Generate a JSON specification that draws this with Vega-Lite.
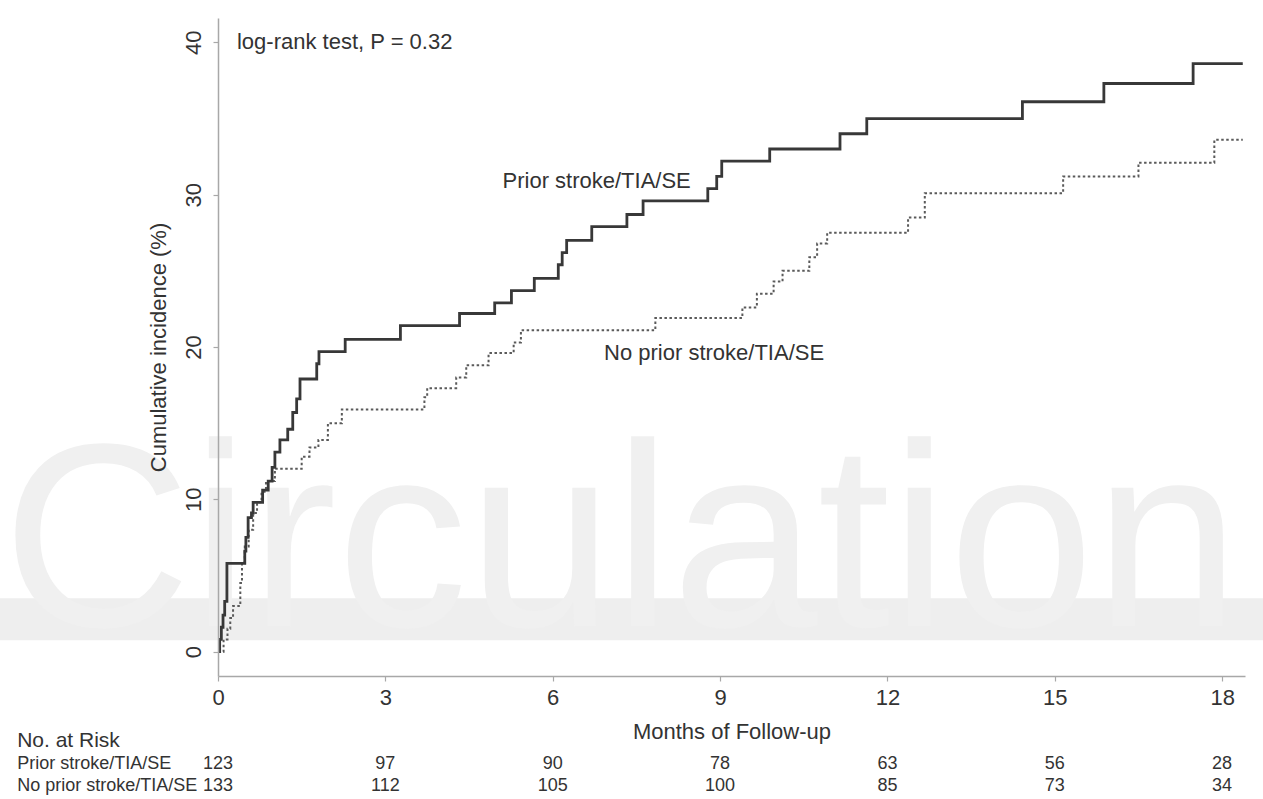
{
  "$schema": "https://vega.github.io/schema/vega-lite/v6.json",
  "width": 1027,
  "height": 658,
  "autosize": {"type": "none"},
  "padding": {"left": 218, "top": 18, "right": 18, "bottom": 123},
  "background": "white",
  "config": {
    "font": "Liberation Sans",
    "view": {"stroke": null},
    "axis": {"grid": false},
    "text": {"font": "Liberation Sans"}
  },
  "datasets": {
    "curves": [
      {"group": "Prior", "month": 0, "pct": 0},
      {"group": "Prior", "month": 0.03, "pct": 0.8},
      {"group": "Prior", "month": 0.06, "pct": 1.6},
      {"group": "Prior", "month": 0.09, "pct": 2.4},
      {"group": "Prior", "month": 0.12, "pct": 3.3},
      {"group": "Prior", "month": 0.16, "pct": 5.8},
      {"group": "Prior", "month": 0.48, "pct": 6.6},
      {"group": "Prior", "month": 0.5, "pct": 7.5},
      {"group": "Prior", "month": 0.54, "pct": 8.8},
      {"group": "Prior", "month": 0.6, "pct": 9.1},
      {"group": "Prior", "month": 0.63, "pct": 9.8},
      {"group": "Prior", "month": 0.8, "pct": 10.6},
      {"group": "Prior", "month": 0.9, "pct": 11.2},
      {"group": "Prior", "month": 0.97, "pct": 12.1},
      {"group": "Prior", "month": 1.02, "pct": 13.1},
      {"group": "Prior", "month": 1.11, "pct": 13.9},
      {"group": "Prior", "month": 1.25, "pct": 14.6},
      {"group": "Prior", "month": 1.34, "pct": 15.7},
      {"group": "Prior", "month": 1.41, "pct": 16.6},
      {"group": "Prior", "month": 1.47, "pct": 17.9},
      {"group": "Prior", "month": 1.77, "pct": 18.9},
      {"group": "Prior", "month": 1.81, "pct": 19.7},
      {"group": "Prior", "month": 2.28, "pct": 20.5},
      {"group": "Prior", "month": 3.27, "pct": 21.4},
      {"group": "Prior", "month": 4.33, "pct": 22.2},
      {"group": "Prior", "month": 4.96, "pct": 22.9},
      {"group": "Prior", "month": 5.26, "pct": 23.7},
      {"group": "Prior", "month": 5.67, "pct": 24.5},
      {"group": "Prior", "month": 6.1, "pct": 25.4},
      {"group": "Prior", "month": 6.17, "pct": 26.2},
      {"group": "Prior", "month": 6.25, "pct": 27.0},
      {"group": "Prior", "month": 6.7, "pct": 27.9},
      {"group": "Prior", "month": 7.33, "pct": 28.7},
      {"group": "Prior", "month": 7.62, "pct": 29.6},
      {"group": "Prior", "month": 8.78, "pct": 30.4},
      {"group": "Prior", "month": 8.94, "pct": 31.2},
      {"group": "Prior", "month": 9.03, "pct": 32.2},
      {"group": "Prior", "month": 9.89, "pct": 33.0},
      {"group": "Prior", "month": 11.15, "pct": 34.0},
      {"group": "Prior", "month": 11.63, "pct": 35.0},
      {"group": "Prior", "month": 14.42, "pct": 36.1},
      {"group": "Prior", "month": 15.88, "pct": 37.3},
      {"group": "Prior", "month": 17.48, "pct": 38.6},
      {"group": "Prior", "month": 18.37, "pct": 38.6},
      {"group": "NoPrior", "month": 0, "pct": 0},
      {"group": "NoPrior", "month": 0.1, "pct": 0.8},
      {"group": "NoPrior", "month": 0.17, "pct": 1.5},
      {"group": "NoPrior", "month": 0.22, "pct": 2.2},
      {"group": "NoPrior", "month": 0.27, "pct": 3.0},
      {"group": "NoPrior", "month": 0.4, "pct": 4.5},
      {"group": "NoPrior", "month": 0.43, "pct": 5.8},
      {"group": "NoPrior", "month": 0.48, "pct": 6.9},
      {"group": "NoPrior", "month": 0.55, "pct": 8.0},
      {"group": "NoPrior", "month": 0.63, "pct": 9.1},
      {"group": "NoPrior", "month": 0.7, "pct": 9.8},
      {"group": "NoPrior", "month": 0.78, "pct": 10.5},
      {"group": "NoPrior", "month": 0.86, "pct": 11.2},
      {"group": "NoPrior", "month": 1.02, "pct": 12.0},
      {"group": "NoPrior", "month": 1.5, "pct": 12.8},
      {"group": "NoPrior", "month": 1.64, "pct": 13.4},
      {"group": "NoPrior", "month": 1.8, "pct": 13.9},
      {"group": "NoPrior", "month": 1.97, "pct": 15.0},
      {"group": "NoPrior", "month": 2.22, "pct": 15.9},
      {"group": "NoPrior", "month": 3.7, "pct": 16.7},
      {"group": "NoPrior", "month": 3.75, "pct": 17.3},
      {"group": "NoPrior", "month": 4.27, "pct": 18.0},
      {"group": "NoPrior", "month": 4.45, "pct": 18.8},
      {"group": "NoPrior", "month": 4.85, "pct": 19.6},
      {"group": "NoPrior", "month": 5.3, "pct": 20.3},
      {"group": "NoPrior", "month": 5.43, "pct": 21.1},
      {"group": "NoPrior", "month": 7.84, "pct": 21.9},
      {"group": "NoPrior", "month": 9.4, "pct": 22.6},
      {"group": "NoPrior", "month": 9.66, "pct": 23.5},
      {"group": "NoPrior", "month": 9.96, "pct": 24.3},
      {"group": "NoPrior", "month": 10.12, "pct": 25.0},
      {"group": "NoPrior", "month": 10.6, "pct": 25.9},
      {"group": "NoPrior", "month": 10.74, "pct": 26.8},
      {"group": "NoPrior", "month": 10.92, "pct": 27.5},
      {"group": "NoPrior", "month": 12.37, "pct": 28.5},
      {"group": "NoPrior", "month": 12.67, "pct": 30.1},
      {"group": "NoPrior", "month": 15.15, "pct": 31.2},
      {"group": "NoPrior", "month": 16.5, "pct": 32.1},
      {"group": "NoPrior", "month": 17.86, "pct": 33.6},
      {"group": "NoPrior", "month": 18.37, "pct": 33.6}
    ],
    "notes": [
      {"text": "log-rank test, P = 0.32", "month": 0.34, "pct": 40.0},
      {"text": "Prior stroke/TIA/SE", "month": 5.1, "pct": 30.9},
      {"text": "No prior stroke/TIA/SE", "month": 6.92, "pct": 19.6}
    ],
    "rows": [
      {"row": "No. at Risk"},
      {"row": "Prior stroke/TIA/SE"},
      {"row": "No prior stroke/TIA/SE"}
    ],
    "risk": [
      {"row": "Prior stroke/TIA/SE", "month": 0, "n": 123},
      {"row": "Prior stroke/TIA/SE", "month": 3, "n": 97},
      {"row": "Prior stroke/TIA/SE", "month": 6, "n": 90},
      {"row": "Prior stroke/TIA/SE", "month": 9, "n": 78},
      {"row": "Prior stroke/TIA/SE", "month": 12, "n": 63},
      {"row": "Prior stroke/TIA/SE", "month": 15, "n": 56},
      {"row": "Prior stroke/TIA/SE", "month": 18, "n": 28},
      {"row": "No prior stroke/TIA/SE", "month": 0, "n": 133},
      {"row": "No prior stroke/TIA/SE", "month": 3, "n": 112},
      {"row": "No prior stroke/TIA/SE", "month": 6, "n": 105},
      {"row": "No prior stroke/TIA/SE", "month": 9, "n": 100},
      {"row": "No prior stroke/TIA/SE", "month": 12, "n": 85},
      {"row": "No prior stroke/TIA/SE", "month": 15, "n": 73},
      {"row": "No prior stroke/TIA/SE", "month": 18, "n": 34}
    ]
  },
  "layer": [
    {
      "layer": [
        {
          "data": {"values": [{"k": 1}]},
          "mark": {"type": "rect", "color": "#eeeeee"},
          "encoding": {
            "x": {"datum": -3.95, "type": "quantitative", "scale": {"domain": [0, 18.41], "nice": false, "zero": false}},
            "x2": {"datum": 18.9},
            "y": {"datum": 0.75, "type": "quantitative", "scale": {"domain": [-1.6, 41.6], "nice": false, "zero": false}},
            "y2": {"datum": 3.5}
          }
        },
        {
          "data": {"values": [{"w": "Circulation"}]},
          "mark": {"type": "text", "fontSize": 262, "color": "#f0f0f0", "align": "left", "baseline": "alphabetic", "font": "Liberation Sans"},
          "encoding": {
            "x": {"datum": -3.87, "type": "quantitative"},
            "y": {"datum": 1.67, "type": "quantitative"},
            "text": {"field": "w"}
          }
        },
        {
          "data": {"name": "curves"},
          "transform": [{"filter": "datum.group === 'NoPrior'"}],
          "mark": {"type": "line", "interpolate": "step-after", "color": "#5a5a5a", "strokeWidth": 2, "strokeDash": [2.5, 2.5]},
          "encoding": {
            "x": {"field": "month", "type": "quantitative"},
            "y": {"field": "pct", "type": "quantitative"}
          }
        },
        {
          "data": {"name": "curves"},
          "transform": [{"filter": "datum.group === 'Prior'"}],
          "mark": {"type": "line", "interpolate": "step-after", "color": "#383838", "strokeWidth": 2.8},
          "encoding": {
            "x": {
              "field": "month", "type": "quantitative",
              "axis": {
                "values": [0, 3, 6, 9, 12, 15, 18],
                "title": "Months of Follow-up",
                "grid": false, "zindex": 1, "labelFlush": false,
                "domainColor": "#a8a8a8", "domainWidth": 1.5,
                "tickColor": "#a8a8a8", "tickSize": 5, "tickWidth": 1.2,
                "labelPadding": 6, "labelFontSize": 22, "labelColor": "#333333", "labelFont": "Liberation Sans",
                "titleFontSize": 22, "titleFontWeight": "normal", "titleColor": "#333333", "titleFont": "Liberation Sans", "titlePadding": 13
              }
            },
            "y": {
              "field": "pct", "type": "quantitative",
              "axis": {
                "values": [0, 10, 20, 30, 40],
                "title": "Cumulative incidence (%)",
                "grid": false, "zindex": 1, "labelFlush": false,
                "domainColor": "#a8a8a8", "domainWidth": 1.5,
                "tickColor": "#a8a8a8", "tickSize": 5, "tickWidth": 1.2,
                "labelAngle": -90, "labelAlign": "center", "labelBaseline": "bottom",
                "labelPadding": 8, "labelFontSize": 22, "labelColor": "#333333", "labelFont": "Liberation Sans",
                "titleFontSize": 22, "titleFontWeight": "normal", "titleColor": "#333333", "titleFont": "Liberation Sans", "titlePadding": 12
              }
            }
          }
        },
        {
          "data": {"name": "notes"},
          "mark": {"type": "text", "fontSize": 22, "color": "#333333", "align": "left", "baseline": "middle", "font": "Liberation Sans"},
          "encoding": {
            "x": {"field": "month", "type": "quantitative"},
            "y": {"field": "pct", "type": "quantitative"},
            "text": {"field": "text"}
          }
        }
      ]
    },
    {
      "layer": [
        {
          "data": {"name": "rows"},
          "mark": {"type": "text", "color": "#333333", "align": "left", "baseline": "middle", "font": "Liberation Sans"},
          "encoding": {
            "x": {"datum": -3.6, "type": "quantitative"},
            "y": {"field": "row", "type": "nominal", "scale": {"domain": ["No. at Risk", "Prior stroke/TIA/SE", "No prior stroke/TIA/SE"], "range": [723, 768], "padding": 0}, "axis": null},
            "text": {"field": "row"},
            "size": {"condition": {"test": "datum.row === 'No. at Risk'", "value": 21}, "value": 18}
          }
        },
        {
          "data": {"name": "risk"},
          "mark": {"type": "text", "fontSize": 18, "color": "#333333", "align": "center", "baseline": "middle", "font": "Liberation Sans"},
          "encoding": {
            "x": {"field": "month", "type": "quantitative"},
            "y": {"field": "row", "type": "nominal", "axis": null},
            "text": {"field": "n"}
          }
        }
      ]
    }
  ],
  "resolve": {"scale": {"y": "independent"}, "axis": {"y": "independent"}}
}
